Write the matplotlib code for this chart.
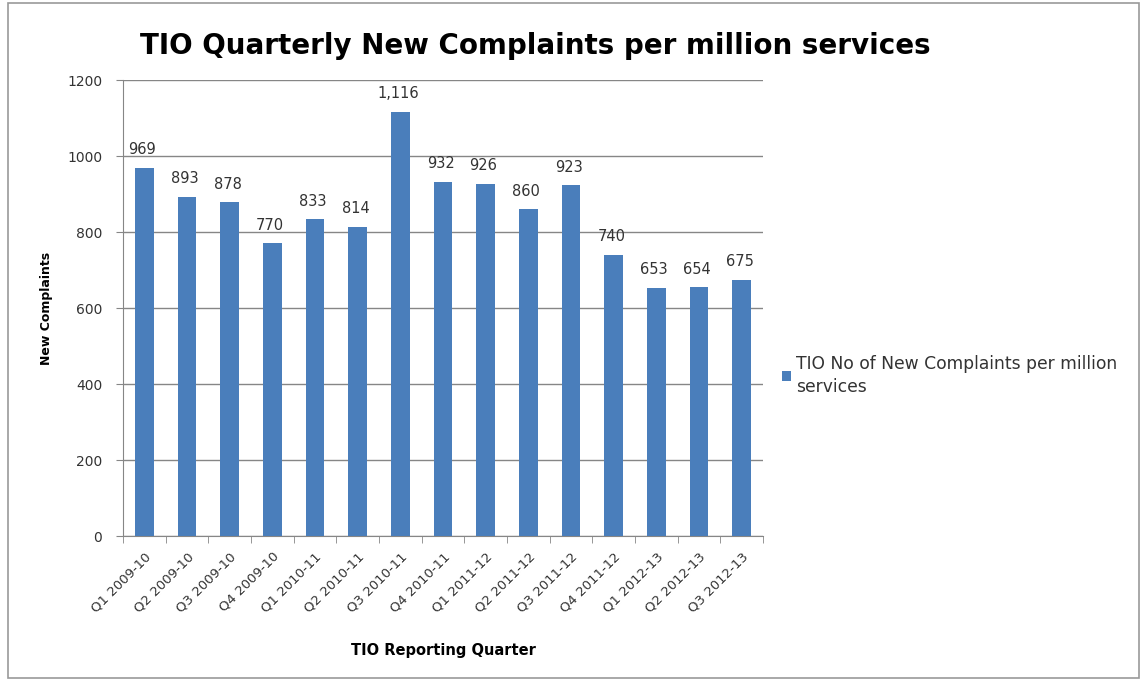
import matplotlib.pyplot as plt
import numpy as np

plt.rcParams['font.family'] = ['DejaVu Sans']

quarters = ['Q1 2009-10', 'Q2 2009-10', 'Q3 2009-10', 'Q4 2009-10',
            'Q1 2010-11', 'Q2 2010-11', 'Q3 2010-11', 'Q4 2010-11',
            'Q1 2011-12', 'Q2 2011-12', 'Q3 2011-12', 'Q4 2011-12',
            'Q1 2012-13', 'Q2 2012-13', 'Q3 2012-13']
complaints = [969, 893, 878, 770, 833, 814, 1116, 932, 926, 860, 923, 740, 653, 654, 675]
yticks = [0, 200, 400, 600, 800, 1000, 1200]

bar_color = '#4A7EBB'
grid_color = '#868686'
text_color = '#333333'

fig = plt.figure(figsize=(11.41, 6.8), dpi=100)
ax = fig.add_axes([123 / 1141, 1 - 536 / 680, 640 / 1141, 456 / 680])

x = np.arange(len(quarters))
bars = ax.bar(x, complaints, width=0.43, color=bar_color, zorder=3,
              label='TIO No of New Complaints per million\nservices')

# value labels above each bar
for xi, v in zip(x, complaints):
    ax.text(xi - 0.05, v + 28, f'{v:,}', ha='center', va='bottom', fontsize=10.5, color=text_color)

ax.set_xlim(-0.5, len(quarters) - 0.5)
ax.set_ylim(0, 1200)
ax.set_yticks(yticks)
ax.set_yticklabels([str(t) for t in yticks], fontsize=10, color=text_color)
ax.yaxis.grid(True, color=grid_color, linewidth=1, zorder=0)
ax.set_xticks(x)
ax.set_xticklabels(quarters, rotation=45, ha='right', rotation_mode='anchor',
                   fontsize=9.5, color=text_color)
ax.set_xticks(np.arange(-0.5, len(quarters)), minor=True)
ax.tick_params(axis='x', which='major', length=0, pad=10)
ax.tick_params(axis='x', which='minor', length=5, color=grid_color)
ax.tick_params(axis='y', length=5, color=grid_color, pad=10)

for side in ['top', 'right']:
    ax.spines[side].set_visible(False)
for side in ['left', 'bottom']:
    ax.spines[side].set_color(grid_color)

ax.set_ylabel('New Complaints', fontsize=9, fontweight='bold', labelpad=10)
ax.set_xlabel('TIO Reporting Quarter', fontsize=10.5, fontweight='bold', labelpad=20)

fig.text(535 / 1141, 1 - 46 / 680, 'TIO Quarterly New Complaints per million services',
         ha='center', va='center', fontsize=20, fontweight='bold')

fig.legend(handles=[bars], loc='upper left', bbox_to_anchor=(775 / 1141, 1 - 348 / 680),
           frameon=False, fontsize=12.3, handlelength=0.55, handleheight=0.55,
           handletextpad=0.3, borderaxespad=0)
plt.setp(fig.legends[0].get_texts(), linespacing=1.35, color=text_color)

fig.patches.append(plt.Rectangle((8 / 1141, 2 / 680), 1 - 10 / 1141, 1 - 5 / 680,
                                 transform=fig.transFigure, fill=False,
                                 edgecolor='#999999', linewidth=1.2))

fig.savefig('out.png', dpi=100)
